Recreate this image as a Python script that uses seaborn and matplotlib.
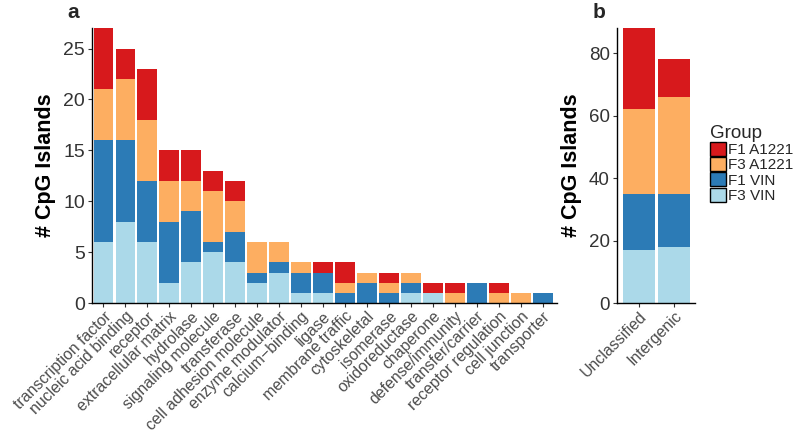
import numpy as np
import pandas as pd
import matplotlib
matplotlib.use("Agg")
import matplotlib.pyplot as plt
import seaborn as sns
from matplotlib.patches import Patch

categories_a = ["transcription factor", "nucleic acid binding", "receptor", "extracellular matrix",
                "hydrolase", "signaling molecule", "transferase", "cell adhesion molecule",
                "enzyme modulator", "calcium\u2212binding", "ligase", "membrane traffic",
                "cytoskeletal", "isomerase", "oxidoreductase", "chaperone", "defense/immunity",
                "transfer/carrier", "receptor regulation", "cell junction", "transporter"]
f3_vin_a   = [6, 8, 6, 2, 4, 5, 4, 2, 3, 1, 1, 0, 0, 0, 1, 1, 0, 0, 0, 0, 0]
f1_vin_a   = [10, 8, 6, 6, 5, 1, 3, 1, 1, 2, 2, 1, 2, 1, 1, 0, 0, 2, 0, 0, 1]
f3_a1221_a = [5, 6, 6, 4, 3, 5, 3, 3, 2, 1, 0, 1, 1, 1, 1, 0, 1, 0, 1, 1, 0]
f1_a1221_a = [6, 3, 5, 3, 3, 2, 2, 0, 0, 0, 1, 2, 0, 1, 0, 1, 1, 0, 1, 0, 0]

categories_b = ["Unclassified", "Intergenic"]
f3_vin_b   = [17, 18]
f1_vin_b   = [18, 17]
f3_a1221_b = [27, 31]
f1_a1221_b = [26, 12]

groups = ["F1 A1221", "F3 A1221", "F1 VIN", "F3 VIN"]
colors = {"F1 A1221": "#d7191c", "F3 A1221": "#fdae61", "F1 VIN": "#2c7bb6", "F3 VIN": "#abd9e9"}

sns.set_theme(style="white")
plt.rcParams["font.family"] = ["Liberation Sans", "DejaVu Sans"]

fig = plt.figure(figsize=(8, 4.33), dpi=100)
ax_a = fig.add_axes([0.115, 0.300, 0.581, 0.635])
ax_b = fig.add_axes([0.771, 0.300, 0.0975, 0.635])


def stacked(ax, cats, layers):
    # layers ordered bottom -> top
    cum = np.cumsum(np.array([l for _, l in layers], dtype=float), axis=0)
    for i in range(len(layers) - 1, -1, -1):
        name = layers[i][0]
        df = pd.DataFrame({"cat": cats, "val": cum[i]})
        sns.barplot(data=df, x="cat", y="val", color=colors[name], saturation=1,
                    width=0.9, errorbar=None, ax=ax, linewidth=0)


stacked(ax_a, categories_a, [("F3 VIN", f3_vin_a), ("F1 VIN", f1_vin_a),
                              ("F3 A1221", f3_a1221_a), ("F1 A1221", f1_a1221_a)])
stacked(ax_b, categories_b, [("F3 VIN", f3_vin_b), ("F1 VIN", f1_vin_b),
                              ("F3 A1221", f3_a1221_b), ("F1 A1221", f1_a1221_b)])

for ax, ymax, ticks, xl, ysz in [(ax_a, 27, [0, 5, 10, 15, 20, 25], (-0.52, 20.64), 14),
                                 (ax_b, 88, [0, 20, 40, 60, 80], (-0.62, 1.58), 13.5)]:
    ax.set_ylim(0, ymax)
    ax.set_xlim(*xl)
    ax.set_yticks(ticks)
    ax.set_xlabel("")
    ax.set_ylabel("# CpG Islands", fontsize=15.5, fontweight="bold", color="black", labelpad=5)
    for s in ["top", "right"]:
        ax.spines[s].set_visible(False)
    for s in ["left", "bottom"]:
        ax.spines[s].set_color("black")
        ax.spines[s].set_linewidth(1.0)
    ax.tick_params(axis="y", labelsize=ysz, labelcolor="#333333", length=3, width=0.8,
                   color="#333333", left=True, pad=2)
    ax.tick_params(axis="x", labelsize=11.4, labelcolor="#4d4d4d", length=3, width=0.8,
                   color="#333333", bottom=True, pad=1)
    for lab in ax.get_xticklabels():
        lab.set_rotation(45)
        lab.set_ha("right")
        lab.set_va("top")
        lab.set_rotation_mode("anchor")

fig.text(0.084, 0.97, "a", fontsize=15, fontweight="bold", va="center")
fig.text(0.741, 0.97, "b", fontsize=15, fontweight="bold", va="center")

handles = [Patch(facecolor=colors[g], edgecolor="black", linewidth=1.0, label=g) for g in groups]
leg = fig.legend(handles=handles, title="Group", loc="upper left", bbox_to_anchor=(0.888, 0.712),
                 frameon=False, fontsize=11, title_fontsize=13.5, handlelength=1.0,
                 handleheight=1.05, handletextpad=0.15, labelspacing=0.0, borderaxespad=0,
                 borderpad=0, alignment="left")

fig.savefig("out.png", dpi=100)
